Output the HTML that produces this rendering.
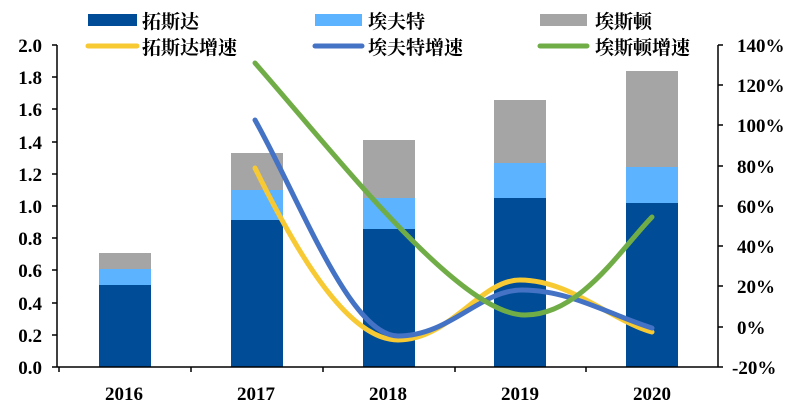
<!DOCTYPE html>
<html><head><meta charset="utf-8"><style>
body{margin:0;background:#fff}
svg text{font-family:"Liberation Serif","Noto Serif CJK SC",serif;font-weight:bold;fill:#000}
.lg{font-family:"Noto Serif CJK SC",serif !important;font-weight:bold}
</style></head><body>
<svg width="800" height="406" xmlns="http://www.w3.org/2000/svg">
<g font-size="19">
<rect x="88" y="14" width="49" height="12" fill="#004c97"/><text class="lg" x="142" y="28">拓斯达</text>
<rect x="315" y="14" width="47" height="12" fill="#5cb3ff"/><text class="lg" x="368" y="28">埃夫特</text>
<rect x="540" y="14" width="47" height="12" fill="#a5a5a5"/><text class="lg" x="595" y="28">埃斯顿</text>
<line x1="88" y1="46" x2="137" y2="46" stroke="#f7c933" stroke-width="5" stroke-linecap="round"/><text class="lg" x="142" y="54">拓斯达增速</text>
<line x1="315" y1="46" x2="362" y2="46" stroke="#4472c4" stroke-width="5" stroke-linecap="round"/><text class="lg" x="368" y="54">埃夫特增速</text>
<line x1="540" y1="46" x2="587" y2="46" stroke="#70ad47" stroke-width="5" stroke-linecap="round"/><text class="lg" x="595" y="54">埃斯顿增速</text>
</g>
<g>
<rect x="99" y="285" width="52" height="82" fill="#004c97"/><rect x="99" y="269" width="52" height="16" fill="#5cb3ff"/><rect x="99" y="253" width="52" height="16" fill="#a5a5a5"/>
<rect x="231" y="220" width="52" height="147" fill="#004c97"/><rect x="231" y="190" width="52" height="30" fill="#5cb3ff"/><rect x="231" y="153" width="52" height="37" fill="#a5a5a5"/>
<rect x="363" y="229" width="52" height="138" fill="#004c97"/><rect x="363" y="198" width="52" height="31" fill="#5cb3ff"/><rect x="363" y="140" width="52" height="58" fill="#a5a5a5"/>
<rect x="494" y="198" width="52" height="169" fill="#004c97"/><rect x="494" y="163" width="52" height="35" fill="#5cb3ff"/><rect x="494" y="100" width="52" height="63" fill="#a5a5a5"/>
<rect x="626" y="203" width="52" height="164" fill="#004c97"/><rect x="626" y="167" width="52" height="36" fill="#5cb3ff"/><rect x="626" y="71" width="52" height="96" fill="#a5a5a5"/>
</g>
<g fill="none" stroke-width="5" stroke-linecap="round">
<path d="M255,168 C300,260 350,340 398,340 C450,340 480,280 520,280 C570,280 610,320 652,332" stroke="#f7c933"/>
<path d="M255,120 C300,200 350,336 398,336 C450,336 480,290 522,290 C570,290 610,315 652,328" stroke="#4472c4"/>
<path d="M255,63 C340,160 460,315 525,315 C580,315 620,250 652,217" stroke="#70ad47"/>
</g>
<g stroke="#000" stroke-width="1.5">
<line x1="57" y1="45" x2="57" y2="367"/><line x1="718" y1="45" x2="718" y2="367"/>
<line x1="57" y1="367" x2="718" y2="367"/>
<line x1="52" y1="45" x2="57" y2="45"/><line x1="52" y1="77" x2="57" y2="77"/><line x1="52" y1="109" x2="57" y2="109"/><line x1="52" y1="142" x2="57" y2="142"/><line x1="52" y1="174" x2="57" y2="174"/><line x1="52" y1="206" x2="57" y2="206"/><line x1="52" y1="238" x2="57" y2="238"/><line x1="52" y1="270" x2="57" y2="270"/><line x1="52" y1="303" x2="57" y2="303"/><line x1="52" y1="335" x2="57" y2="335"/><line x1="52" y1="367" x2="57" y2="367"/>
<line x1="718" y1="45" x2="723" y2="45"/><line x1="718" y1="85" x2="723" y2="85"/><line x1="718" y1="125" x2="723" y2="125"/><line x1="718" y1="166" x2="723" y2="166"/><line x1="718" y1="206" x2="723" y2="206"/><line x1="718" y1="246" x2="723" y2="246"/><line x1="718" y1="286" x2="723" y2="286"/><line x1="718" y1="327" x2="723" y2="327"/><line x1="718" y1="367" x2="723" y2="367"/>
<line x1="59" y1="367" x2="59" y2="372"/><line x1="191" y1="367" x2="191" y2="372"/><line x1="323" y1="367" x2="323" y2="372"/><line x1="455" y1="367" x2="455" y2="372"/><line x1="586" y1="367" x2="586" y2="372"/>
</g>
<g font-size="19" text-anchor="end">
<text x="42" y="52">2.0</text><text x="42" y="84">1.8</text><text x="42" y="116">1.6</text><text x="42" y="149">1.4</text><text x="42" y="181">1.2</text><text x="42" y="213">1.0</text><text x="42" y="245">0.8</text><text x="42" y="277">0.6</text><text x="42" y="310">0.4</text><text x="42" y="342">0.2</text><text x="42" y="374">0.0</text>
</g>
<g font-size="19">
<text x="737" y="52">140%</text><text x="737" y="92">120%</text><text x="737" y="132">100%</text><text x="737" y="173">80%</text><text x="737" y="213">60%</text><text x="737" y="253">40%</text><text x="737" y="293">20%</text><text x="737" y="334">0%</text><text x="732" y="374">-20%</text>
</g>
<g font-size="19" text-anchor="middle">
<text x="124" y="400">2016</text><text x="256" y="400">2017</text><text x="388" y="400">2018</text><text x="520" y="400">2019</text><text x="652" y="400">2020</text>
</g>
</svg>
</body></html>
